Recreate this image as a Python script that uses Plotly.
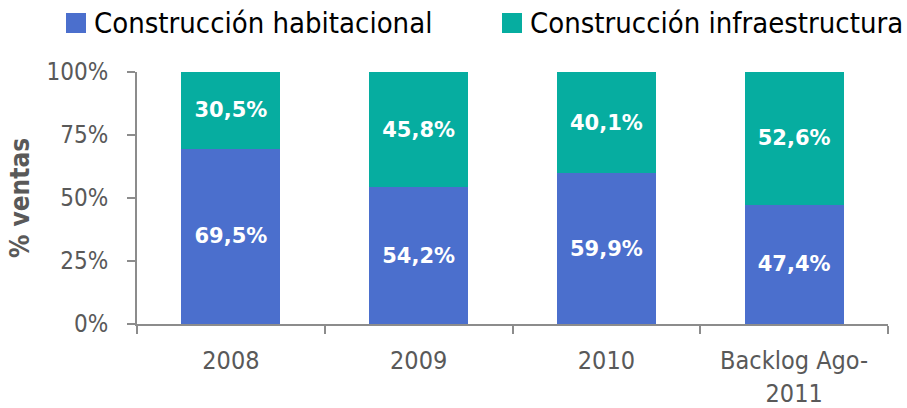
import plotly.graph_objects as go

categories = ["2008", "2009", "2010", "Backlog Ago-<br>2011"]
habitacional = [69.5, 54.2, 59.9, 47.4]
infraestructura = [30.5, 45.8, 40.1, 52.6]
series_names = ["Construcción habitacional", "Construcción infraestructura"]
y_ticks = [0, 0.25, 0.5, 0.75, 1.0]

BLUE = "#4B6FCD"
TEAL = "#06ADA0"
GRAY_TXT = "#595959"
AXIS = "#8C8C8C"
COND = "DejaVu Sans Condensed, DejaVu Sans, sans-serif"

W, H = 907, 408
ML, MR, MT, MB = 137, 19, 72, 84
PW, PH = W - ML - MR, H - MT - MB


def px_x(px):
    return (px - ML) / PW


def px_y(py):
    return (H - MB - py) / PH


fig = go.Figure()
colors = [BLUE, TEAL]
for name, vals, col in [(series_names[0], habitacional, BLUE), (series_names[1], infraestructura, TEAL)]:
    fig.add_trace(go.Bar(
        x=categories, y=[v / 100 for v in vals], name=name,
        marker=dict(color=col, line=dict(width=0)),
        width=0.527,
        texttemplate="%{y:.1%}", textposition="inside", insidetextanchor="middle",
        textangle=0,
        textfont=dict(family="DejaVu Sans", size=21, color="white", weight="bold"),
        constraintext="none",
        showlegend=False,
    ))

# manual legend (squares + labels)
legend_sq_px = [66, 502]
for i, name in enumerate(series_names):
    x0 = legend_sq_px[i]
    fig.add_shape(type="rect", xref="paper", yref="paper",
                  x0=px_x(x0), x1=px_x(x0 + 20), y0=px_y(33), y1=px_y(13),
                  fillcolor=colors[i], line=dict(width=0))
    fig.add_annotation(xref="paper", yref="paper", x=px_x(x0 + 26), y=px_y(23),
                       xanchor="left", yanchor="middle", showarrow=False,
                       text=name, font=dict(family=COND, size=29, color="black"))

fig.update_layout(
    barmode="stack",
    width=W, height=H,
    margin=dict(l=ML, r=MR, t=MT, b=MB, autoexpand=False),
    paper_bgcolor="white", plot_bgcolor="white",
    separators=",.",
    showlegend=False,
    xaxis=dict(showline=True, linecolor=AXIS, linewidth=2,
               ticks="outside", tickson="boundaries", ticklen=8, tickcolor=AXIS, tickwidth=2,
               tickfont=dict(family=COND, size=25, color=GRAY_TXT),
               ticklabelstandoff=13, showgrid=False),
    yaxis=dict(range=[0, 1], tickvals=y_ticks, tickformat=".0%",
               showline=True, linecolor=AXIS, linewidth=2,
               ticks="outside", ticklen=8, tickcolor=AXIS, tickwidth=2,
               tickfont=dict(family=COND, size=24, color=GRAY_TXT),
               ticklabelstandoff=14, showgrid=False, zeroline=False,
               title=dict(text="% ventas", standoff=9,
                          font=dict(family=COND, size=26, color=GRAY_TXT, weight="bold"))),
)

fig.write_html("out.html", config={"displayModeBar": False},
               post_script="document.body.style.margin='0';document.body.style.overflow='hidden';")
